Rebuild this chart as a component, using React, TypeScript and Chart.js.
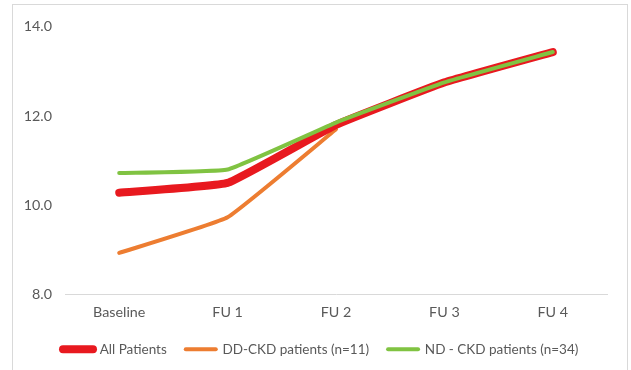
import React, { useEffect, useRef } from "react";
import { Chart, registerables } from "chart.js";

Chart.register(...registerables);

const categories = ["Baseline", "FU 1", "FU 2", "FU 3", "FU 4"];
const allPatients = [10.28, 10.5, 11.8, 12.75, 13.43];
const ddCkd = [8.93, 9.73, 11.7, null, null];
const ndCkd = [10.72, 10.8, 11.85, 12.75, 13.43];
const yTicks = [8, 10, 12, 14];

const FONT = "Lato, 'Liberation Sans', Arial, sans-serif";
const TEXT = "#595959";
const FS = 14.3;
const LFS = 13.5;

const legendShift = {
  id: "legendShift",
  afterLayout(chart: any) {
    if (chart.legend) {
      chart.legend.left += 21;
      chart.legend.right += 21;
    }
  },
};

export default function App() {
  const ref = useRef<HTMLCanvasElement | null>(null);

  useEffect(() => {
    if (!ref.current) return;
    const chart = new Chart(ref.current, {
      type: "line",
      plugins: [legendShift],
      data: {
        labels: categories,
        datasets: [
          {
            label: "All Patients",
            data: allPatients,
            borderColor: "#e8191f",
            backgroundColor: "#e8191f",
            borderWidth: 8,
            borderCapStyle: "round",
            borderJoinStyle: "round",
            pointRadius: 0,
            tension: 0.1,
            order: 1,
          },
          {
            label: "DD-CKD patients (n=11)",
            data: ddCkd,
            borderColor: "#ed7d31",
            backgroundColor: "#ed7d31",
            borderWidth: 4,
            borderCapStyle: "round",
            borderJoinStyle: "round",
            pointRadius: 0,
            tension: 0.1,
            spanGaps: false,
            order: 2,
          },
          {
            label: "ND - CKD patients (n=34)",
            data: ndCkd,
            borderColor: "#80c342",
            backgroundColor: "#80c342",
            borderWidth: 4,
            borderCapStyle: "round",
            borderJoinStyle: "round",
            pointRadius: 0,
            tension: 0.1,
            order: 0,
          },
        ],
      },
      options: {
        responsive: false,
        animation: false,
        layout: { padding: { left: 10, top: 14, right: 20, bottom: 3 } },
        plugins: {
          tooltip: { enabled: false },
          legend: {
            position: "bottom",
            align: "start",
            labels: {
              usePointStyle: true,
              pointStyle: "line",
              pointStyleWidth: 30,
              padding: 19,
              color: TEXT,
              font: { family: FONT, size: LFS },
              generateLabels: (c: any) => {
                const items = Chart.defaults.plugins.legend.labels.generateLabels(c);
                return items
                  .map((it: any) => {
                    const ds: any = c.data.datasets[it.datasetIndex];
                    return { ...it, lineWidth: ds.borderWidth, lineCap: "round", strokeStyle: ds.borderColor };
                  })
                  .sort((a: any, b: any) => a.datasetIndex - b.datasetIndex);
              },
            },
          },
        },
        scales: {
          x: {
            offset: true,
            grid: { display: false, drawTicks: false, offset: true },
            border: { display: true, color: "#d9d9d9", width: 1 },
            ticks: { color: TEXT, font: { family: FONT, size: FS }, padding: 9 },
            afterFit: (s: any) => {
              s.height = 29;
            },
          },
          y: {
            min: 8,
            max: 14,
            grid: { display: false, drawTicks: false },
            border: { display: false },
            afterBuildTicks: (s: any) => {
              s.ticks = yTicks.map((v) => ({ value: v }));
            },
            ticks: {
              color: TEXT,
              font: { family: FONT, size: FS },
              padding: 13,
              callback: (v: any) => Number(v).toFixed(1),
            },
            afterFit: (s: any) => {
              s.width = 42;
            },
          },
        },
      },
    });
    return () => chart.destroy();
  }, []);

  return (
    <div
      style={{
        position: "absolute",
        left: 12,
        top: 4,
        width: 616,
        height: 380,
        border: "1px solid #d9d9d9",
        boxSizing: "border-box",
        background: "#fff",
      }}
    >
      <canvas ref={ref} width={614} height={364} style={{ display: "block" }} />
    </div>
  );
}
